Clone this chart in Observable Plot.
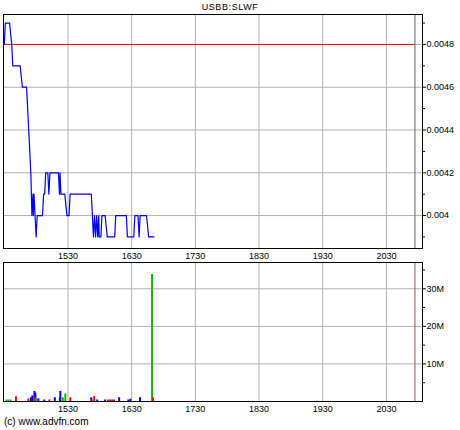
<!DOCTYPE html>
<html>
<head>
<meta charset="utf-8">
<script src="https://cdn.jsdelivr.net/npm/d3@7"></script>
<script src="https://cdn.jsdelivr.net/npm/@observablehq/plot@0.6"></script>
<style>
  html, body { margin: 0; padding: 0; background: white; }
  #wrap { position: relative; width: 460px; height: 430px; overflow: hidden; background: white; font-family: "Liberation Sans", Arial, sans-serif; }
  #title { position: absolute; top: 2px; left: 0; width: 460px; text-align: center; font-size: 9px; letter-spacing: 0.6px; }
  #footer { position: absolute; top: 416px; left: 4px; font-size: 10px; }
  #top, #bottom { position: absolute; left: 0; }
  #top { top: 0; }
  #bottom { top: 260px; }
</style>
</head>
<body>
<div id="wrap">
  <div id="top"></div>
  <div id="bottom"></div>
  <div id="title">USBB:SLWF</div>
  <div id="footer">(c) www.advfn.com</div>
</div>
<script>
// Time in minutes since midnight
const priceTimes = [870, 871, 875, 877, 878, 885, 887, 891, 895, 896, 897, 897.4, 898, 900, 901, 906, 907, 908, 909, 911, 912, 913, 921, 922, 922.5, 923.4, 927, 929, 931, 932, 952, 954, 955, 956, 957, 958, 959, 959.4, 961, 962, 965, 967, 974, 975, 985, 986, 992, 993, 996, 997, 998, 1004, 1006, 1011];
const priceValues = [0.0048, 0.0049, 0.0049, 0.0048, 0.0047, 0.0047, 0.0046, 0.0046, 0.0042, 0.0040, 0.0041, 0.0040, 0.0041, 0.0039, 0.0040, 0.0040, 0.0041, 0.0041, 0.0042, 0.0042, 0.0041, 0.0042, 0.0042, 0.0041, 0.0042, 0.0041, 0.0041, 0.0040, 0.0040, 0.0041, 0.0041, 0.0039, 0.0040, 0.0039, 0.0040, 0.0039, 0.0040, 0.0039, 0.0039, 0.0040, 0.0040, 0.0039, 0.0039, 0.0040, 0.0040, 0.0039, 0.0039, 0.0040, 0.0040, 0.0039, 0.0040, 0.0040, 0.0039, 0.0039];

const volTimes = [872, 874, 876, 881, 892.7, 895.1, 896.5, 898.4, 899.3, 898.8, 900.2, 902.1, 907.7, 912.4, 917.6, 922.3, 922.8, 925.1, 927.5, 932.2, 951.9, 952.4, 954.7, 957.5, 965, 967.8, 969.7, 971.6, 973.4, 978.2, 986.9, 988.8, 997.9, 1009.2, 1010.1];
const volValues = [0.4e6, 0.4e6, 0.4e6, 1.25e6, 0.7e6, 1.0e6, 1.5e6, 2.7e6, 2.2e6, 1.0e6, 0.7e6, 0.7e6, 0.4e6, 0.4e6, 1.0e6, 1.0e6, 2.7e6, 1.0e6, 2.0e6, 1.0e6, 1.0e6, 0.4e6, 1.3e6, 0.4e6, 0.4e6, 0.4e6, 0.4e6, 0.4e6, 0.4e6, 1.0e6, 0.4e6, 0.6e6, 1.0e6, 33.8e6, 1.0e6];
const volDirection = ["flat", "flat", "flat", "down", "down", "up", "up", "up", "up", "down", "flat", "up", "up", "down", "up", "down", "up", "flat", "flat", "down", "up", "down", "down", "up", "up", "down", "down", "down", "down", "up", "up", "up", "up", "flat", "down"];

const xTickValues = [930, 990, 1050, 1110, 1170, 1230];
const xTickLabels = ["1530", "1630", "1730", "1830", "1930", "2030"];
const priceTicks = [0.004, 0.0042, 0.0044, 0.0046, 0.0048];
const priceTickLabels = ["0.004", "0.0042", "0.0044", "0.0046", "0.0048"];
const priceMinorTicks = [0.0039, 0.0041, 0.0043, 0.0045, 0.0047, 0.0049];
const volTicks = [10e6, 20e6, 30e6];
const volTickLabels = ["10M", "20M", "30M"];
const volMinorTicks = [5e6, 15e6, 25e6, 35e6];
const refPrice = 0.0048;
const markerTime = 1256.9;

const xDomain = [869.25, 1264];
const priceDomain = [0.003846, 0.00494];
const volDomain = [0, 37e6];

const priceData = priceTimes.map((t, i) => ({t, v: priceValues[i]}));
const volData = volTimes.map((t, i) => ({t, v: volValues[i], d: volDirection[i]}));
const xLabel = new Map(xTickValues.map((v, i) => [v, xTickLabels[i]]));
const pLabel = new Map(priceTicks.map((v, i) => [v, priceTickLabels[i]]));
const vLabel = new Map(volTicks.map((v, i) => [v, volTickLabels[i]]));
const dirColor = {up: "#0000ff", down: "#ff0000", flat: "#00c000"};

const style = {fontFamily: "'Liberation Sans', Arial, sans-serif", fontSize: "9px", color: "black", background: "white", overflow: "visible"};
const gridColor = "#b0b0b0";

const topChart = Plot.plot({
  width: 460, height: 262,
  marginLeft: 3, marginRight: 38, marginTop: 14, marginBottom: 14,
  style,
  x: {type: "linear", domain: xDomain},
  y: {type: "linear", domain: priceDomain},
  marks: [
    Plot.gridX(xTickValues, {stroke: gridColor, strokeOpacity: 1}),
    Plot.gridY(priceTicks, {stroke: gridColor, strokeOpacity: 1}),
    Plot.ruleX([markerTime], {stroke: "#666", strokeOpacity: 1}),
    Plot.ruleY([refPrice], {x1: xDomain[0], x2: markerTime, stroke: "#ff0000"}),
    Plot.line(priceData, {x: "t", y: "v", stroke: "#0000ff", strokeWidth: 1.2}),
    Plot.axisX({ticks: xTickValues, tickFormat: d => xLabel.get(d), tickSize: 0, tickPadding: 4, label: null}),
    Plot.axisY({anchor: "right", ticks: priceTicks, tickFormat: d => pLabel.get(d), tickSize: 3, tickPadding: 1, label: null}),
    Plot.axisY({anchor: "right", ticks: priceMinorTicks, tickFormat: () => "", tickSize: 2, label: null}),
    Plot.frame({stroke: "black"})
  ]
});
document.getElementById("top").appendChild(topChart);

const bottomChart = Plot.plot({
  width: 460, height: 170,
  marginLeft: 3, marginRight: 38, marginTop: 2, marginBottom: 29,
  style,
  x: {type: "linear", domain: xDomain},
  y: {type: "linear", domain: volDomain},
  marks: [
    Plot.gridX(xTickValues, {stroke: gridColor, strokeOpacity: 1}),
    Plot.gridY(volTicks, {stroke: gridColor, strokeOpacity: 1}),
    Plot.ruleX([markerTime], {stroke: "#8a5a5a", strokeOpacity: 1}),
    Plot.ruleX(volData, {x: "t", y1: 0, y2: "v", stroke: d => dirColor[d.d], strokeWidth: 2}),
    Plot.axisX({ticks: xTickValues, tickFormat: d => xLabel.get(d), tickSize: 0, tickPadding: 4, label: null}),
    Plot.axisY({anchor: "right", ticks: volTicks, tickFormat: d => vLabel.get(d), tickSize: 3, tickPadding: 1, label: null}),
    Plot.axisY({anchor: "right", ticks: volMinorTicks, tickFormat: () => "", tickSize: 2, label: null}),
    Plot.frame({stroke: "black"})
  ]
});
document.getElementById("bottom").appendChild(bottomChart);
</script>
</body>
</html>
